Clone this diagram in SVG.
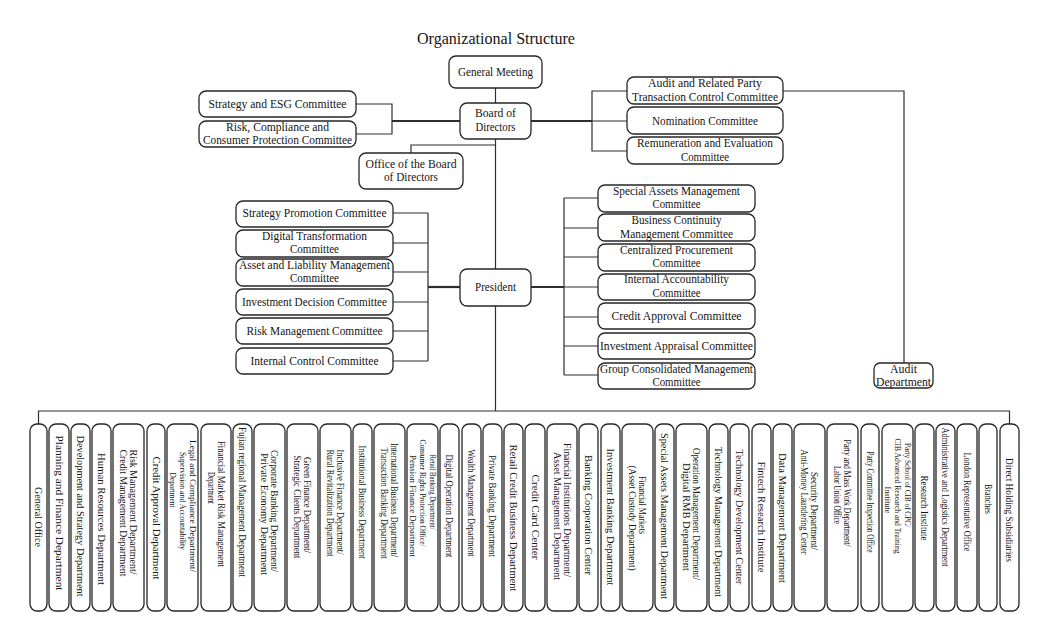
<svg xmlns="http://www.w3.org/2000/svg" width="1045" height="632" viewBox="0 0 1045 632">
<style>
.bg{fill:#fff}
.box{fill:#fff;stroke:#262626;stroke-width:1.3}
.t{font-family:"Liberation Serif","Times New Roman",serif;font-size:12px;fill:#151515;text-anchor:middle}
.v{font-size:10px}
.v3{font-size:9px}
.ttl{font-size:17px}
.ln{fill:none;stroke:#2e2e2e;stroke-width:1.2}
.th{stroke-width:2.2}
</style>
<rect class="bg" x="0" y="0" width="1045" height="632"/>
<text class="t ttl" x="496" y="44" textLength="158" lengthAdjust="spacingAndGlyphs">Organizational Structure</text>

<g id="connectors">
<path class="ln" d="M495.5,88 V103"/>
<path class="ln" d="M495.5,139 V269"/>
<path class="ln" d="M495.5,145 H411 V153"/>
<path class="ln th" d="M460,121 H392"/>
<path class="ln" d="M356,104 H392 V134 H356"/>
<path class="ln th" d="M531,121 H592"/>
<path class="ln" d="M627,91 H592 V151 H627 M592,121 H627"/>
<path class="ln" d="M783,91 H904 V363"/>
<path class="ln th" d="M460,287 H428"/>
<path class="ln" d="M428,213 V361 M393,213 H428 M393,243 H428 M393,272 H428 M393,302 H428 M393,331 H428 M393,361 H428"/>
<path class="ln th" d="M531,287 H564"/>
<path class="ln" d="M564,198 V375 M564,198 H598 M564,228 H598 M564,257 H598 M564,287 H598 M564,317 H598 M564,346 H598 M564,375 H598"/>
<path class="ln" d="M495.5,306 V411"/>
<path class="ln" d="M38.5,424 V411 H1009.5 V424"/>
</g>

<g id="general-meeting"><rect class="box" x="449" y="56" width="93" height="32" rx="7"/><text class="t" x="495.5" y="76" textLength="75" lengthAdjust="spacingAndGlyphs">General Meeting</text></g>
<g id="board"><rect class="box" x="460" y="103" width="71" height="36" rx="7"/><text class="t" x="495.5" y="117" textLength="41" lengthAdjust="spacingAndGlyphs">Board of</text><text class="t" x="495.5" y="131" textLength="40" lengthAdjust="spacingAndGlyphs">Directors</text></g>
<g id="strategy-esg"><rect class="box" x="199" y="91" width="157" height="26" rx="7"/><text class="t" x="277.5" y="108" textLength="138" lengthAdjust="spacingAndGlyphs">Strategy and ESG Committee</text></g>
<g id="risk-compliance"><rect class="box" x="199" y="121" width="157" height="26" rx="7"/><text class="t" x="277.5" y="131" textLength="103" lengthAdjust="spacingAndGlyphs">Risk, Compliance and</text><text class="t" x="277.5" y="144" textLength="149" lengthAdjust="spacingAndGlyphs">Consumer Protection Committee</text></g>
<g id="office-board"><rect class="box" x="359" y="153" width="104" height="36" rx="7"/><text class="t" x="411" y="168" textLength="91" lengthAdjust="spacingAndGlyphs">Office of the Board</text><text class="t" x="411" y="181" textLength="54" lengthAdjust="spacingAndGlyphs">of Directors</text></g>
<g id="audit-rpt"><rect class="box" x="627" y="77" width="156" height="27" rx="7"/><text class="t" x="705" y="87" textLength="114" lengthAdjust="spacingAndGlyphs">Audit and Related Party</text><text class="t" x="705" y="101" textLength="146" lengthAdjust="spacingAndGlyphs">Transaction Control Committee</text></g>
<g id="nomination"><rect class="box" x="627" y="107" width="156" height="27" rx="7"/><text class="t" x="705" y="125" textLength="106" lengthAdjust="spacingAndGlyphs">Nomination Committee</text></g>
<g id="remuneration"><rect class="box" x="627" y="137" width="156" height="27" rx="7"/><text class="t" x="705" y="147" textLength="136" lengthAdjust="spacingAndGlyphs">Remuneration and Evaluation</text><text class="t" x="705" y="161" textLength="48" lengthAdjust="spacingAndGlyphs">Committee</text></g>
<g id="president"><rect class="box" x="460" y="269" width="71" height="37" rx="7"/><text class="t" x="495.5" y="291" textLength="41" lengthAdjust="spacingAndGlyphs">President</text></g>

<g id="strategy-promotion"><rect class="box" x="236" y="201" width="157" height="26" rx="7"/><text class="t" x="314.5" y="217" textLength="144" lengthAdjust="spacingAndGlyphs">Strategy Promotion Committee</text></g>
<g id="digital-transformation"><rect class="box" x="236" y="230" width="157" height="27" rx="7"/><text class="t" x="314.5" y="240" textLength="105" lengthAdjust="spacingAndGlyphs">Digital Transformation</text><text class="t" x="314.5" y="253" textLength="49" lengthAdjust="spacingAndGlyphs">Committee</text></g>
<g id="asset-liability"><rect class="box" x="236" y="259" width="157" height="27" rx="7"/><text class="t" x="314.5" y="269" textLength="151" lengthAdjust="spacingAndGlyphs">Asset and Liability Management</text><text class="t" x="314.5" y="282" textLength="49" lengthAdjust="spacingAndGlyphs">Committee</text></g>
<g id="investment-decision"><rect class="box" x="236" y="289" width="157" height="26" rx="7"/><text class="t" x="314.5" y="306" textLength="145" lengthAdjust="spacingAndGlyphs">Investment Decision Committee</text></g>
<g id="risk-management"><rect class="box" x="236" y="318" width="157" height="26" rx="7"/><text class="t" x="314.5" y="335" textLength="136" lengthAdjust="spacingAndGlyphs">Risk Management Committee</text></g>
<g id="internal-control"><rect class="box" x="236" y="348" width="157" height="26" rx="7"/><text class="t" x="314.5" y="365" textLength="128" lengthAdjust="spacingAndGlyphs">Internal Control Committee</text></g>

<g id="special-assets"><rect class="box" x="598" y="185" width="157" height="27" rx="7"/><text class="t" x="676.5" y="195" textLength="127" lengthAdjust="spacingAndGlyphs">Special Assets Management</text><text class="t" x="676.5" y="208" textLength="48" lengthAdjust="spacingAndGlyphs">Committee</text></g>
<g id="business-continuity"><rect class="box" x="598" y="214" width="157" height="27" rx="7"/><text class="t" x="676.5" y="224" textLength="90" lengthAdjust="spacingAndGlyphs">Business Continuity</text><text class="t" x="676.5" y="238" textLength="113" lengthAdjust="spacingAndGlyphs">Management Committee</text></g>
<g id="centralized-procurement"><rect class="box" x="598" y="244" width="157" height="27" rx="7"/><text class="t" x="676.5" y="254" textLength="113" lengthAdjust="spacingAndGlyphs">Centralized Procurement</text><text class="t" x="676.5" y="267" textLength="48" lengthAdjust="spacingAndGlyphs">Committee</text></g>
<g id="internal-accountability"><rect class="box" x="598" y="274" width="157" height="26" rx="7"/><text class="t" x="676.5" y="283" textLength="105" lengthAdjust="spacingAndGlyphs">Internal Accountability</text><text class="t" x="676.5" y="297" textLength="48" lengthAdjust="spacingAndGlyphs">Committee</text></g>
<g id="credit-approval-committee"><rect class="box" x="598" y="303" width="157" height="26" rx="7"/><text class="t" x="676.5" y="320" textLength="130" lengthAdjust="spacingAndGlyphs">Credit Approval Committee</text></g>
<g id="investment-appraisal"><rect class="box" x="598" y="333" width="157" height="26" rx="7"/><text class="t" x="676.5" y="350" textLength="153" lengthAdjust="spacingAndGlyphs">Investment Appraisal Committee</text></g>
<g id="group-consolidated"><rect class="box" x="598" y="363" width="157" height="26" rx="7"/><text class="t" x="676.5" y="373" textLength="153" lengthAdjust="spacingAndGlyphs">Group Consolidated Management</text><text class="t" x="676.5" y="386" textLength="48" lengthAdjust="spacingAndGlyphs">Committee</text></g>
<g id="audit-department"><rect class="box" x="874" y="363" width="59" height="25" rx="6"/><text class="t" x="903.5" y="373" textLength="27" lengthAdjust="spacingAndGlyphs">Audit</text><text class="t" x="903.5" y="386" textLength="55" lengthAdjust="spacingAndGlyphs">Department</text></g>

<g id="d01"><rect class="box" x="30" y="424" width="17" height="187" rx="7"/><text class="t v" transform="translate(38.5,517) rotate(90)" y="3.5" textLength="60" lengthAdjust="spacingAndGlyphs">General Office</text></g>
<g id="d02"><rect class="box" x="49" y="424" width="20" height="187" rx="7"/><text class="t v" transform="translate(59,513) rotate(90)" y="3.5" textLength="155" lengthAdjust="spacingAndGlyphs">Planning and Finance Department</text></g>
<g id="d03"><rect class="box" x="71" y="424" width="19" height="187" rx="7"/><text class="t v" transform="translate(80.5,516) rotate(90)" y="3.5" textLength="161" lengthAdjust="spacingAndGlyphs">Development and Strategy Department</text></g>
<g id="d04"><rect class="box" x="92" y="424" width="19" height="187" rx="7"/><text class="t v" transform="translate(101.5,519) rotate(90)" y="3.5" textLength="132" lengthAdjust="spacingAndGlyphs">Human Resources Department</text></g>
<g id="d05"><rect class="box" x="113" y="424" width="31" height="187" rx="7"/><text class="t v" transform="translate(133.5,512) rotate(90)" y="3.5" textLength="125" lengthAdjust="spacingAndGlyphs">Risk Management Department/</text><text class="t v" transform="translate(123.5,513) rotate(90)" y="3.5" textLength="127" lengthAdjust="spacingAndGlyphs">Credit Management Department</text></g>
<g id="d06"><rect class="box" x="147" y="424" width="18" height="187" rx="7"/><text class="t v" transform="translate(156,518) rotate(90)" y="3.5" textLength="123" lengthAdjust="spacingAndGlyphs">Credit Approval Department</text></g>
<g id="d07"><rect class="box" x="167" y="424" width="31" height="187" rx="7"/><text class="t v3" transform="translate(192.5,506) rotate(90)" y="3" textLength="132" lengthAdjust="spacingAndGlyphs">Legal and Compliance Department/</text><text class="t v3" transform="translate(182.5,501) rotate(90)" y="3" textLength="98" lengthAdjust="spacingAndGlyphs">Supervision and Accountability</text><text class="t v3" transform="translate(173,490) rotate(90)" y="3" textLength="35" lengthAdjust="spacingAndGlyphs">Department</text></g>
<g id="d08"><rect class="box" x="201" y="424" width="30" height="187" rx="7"/><text class="t v" transform="translate(221,504) rotate(90)" y="3.5" textLength="126" lengthAdjust="spacingAndGlyphs">Financial Market Risk Management</text><text class="t v" transform="translate(211,488) rotate(90)" y="3.5" textLength="32" lengthAdjust="spacingAndGlyphs">Department</text></g>
<g id="d09"><rect class="box" x="233" y="424" width="19" height="187" rx="7"/><text class="t v" transform="translate(242.5,502) rotate(90)" y="3.5" textLength="150" lengthAdjust="spacingAndGlyphs">Fujian regional Management Department</text></g>
<g id="d10"><rect class="box" x="254" y="424" width="31" height="187" rx="7"/><text class="t v" transform="translate(274.5,511) rotate(90)" y="3.5" textLength="122" lengthAdjust="spacingAndGlyphs">Corporate Banking Department/</text><text class="t v" transform="translate(264.5,514) rotate(90)" y="3.5" textLength="122" lengthAdjust="spacingAndGlyphs">Private Economy Department</text></g>
<g id="d11"><rect class="box" x="287" y="424" width="31" height="187" rx="7"/><text class="t v" transform="translate(307.5,505) rotate(90)" y="3.5" textLength="96" lengthAdjust="spacingAndGlyphs">Green Finance Department/</text><text class="t v" transform="translate(297.5,507) rotate(90)" y="3.5" textLength="103" lengthAdjust="spacingAndGlyphs">Strategic Clients Department</text></g>
<g id="d12"><rect class="box" x="320" y="424" width="31" height="187" rx="7"/><text class="t v" transform="translate(340.5,502) rotate(90)" y="3.5" textLength="105" lengthAdjust="spacingAndGlyphs">Inclusive Finance Department/</text><text class="t v" transform="translate(330.5,503) rotate(90)" y="3.5" textLength="107" lengthAdjust="spacingAndGlyphs">Rural Revitalization Department</text></g>
<g id="d13"><rect class="box" x="353" y="424" width="19" height="187" rx="7"/><text class="t v" transform="translate(362.5,502) rotate(90)" y="3.5" textLength="113" lengthAdjust="spacingAndGlyphs">Institutional Business Department</text></g>
<g id="d14"><rect class="box" x="374" y="424" width="31" height="187" rx="7"/><text class="t v" transform="translate(394.5,500) rotate(90)" y="3.5" textLength="114" lengthAdjust="spacingAndGlyphs">International Business Department/</text><text class="t v" transform="translate(384.5,503) rotate(90)" y="3.5" textLength="111" lengthAdjust="spacingAndGlyphs">Transaction Banking Department</text></g>
<g id="d15"><rect class="box" x="407" y="424" width="31" height="187" rx="7"/><text class="t v3" transform="translate(432.5,492) rotate(90)" y="3" textLength="75" lengthAdjust="spacingAndGlyphs">Retail Banking Department/</text><text class="t v3" transform="translate(422.5,493) rotate(90)" y="3" textLength="107" lengthAdjust="spacingAndGlyphs">Consumer Rights Protection Office/</text><text class="t v3" transform="translate(413,506) rotate(90)" y="3" textLength="102" lengthAdjust="spacingAndGlyphs">Pension Finance Department</text></g>
<g id="d16"><rect class="box" x="440" y="424" width="19" height="187" rx="7"/><text class="t v" transform="translate(449.5,506) rotate(90)" y="3.5" textLength="103" lengthAdjust="spacingAndGlyphs">Digital Operation Department</text></g>
<g id="d17"><rect class="box" x="462" y="424" width="19" height="187" rx="7"/><text class="t v" transform="translate(471.5,503) rotate(90)" y="3.5" textLength="107" lengthAdjust="spacingAndGlyphs">Wealth Management Department</text></g>
<g id="d18"><rect class="box" x="483" y="424" width="19" height="187" rx="7"/><text class="t v" transform="translate(492.5,506) rotate(90)" y="3.5" textLength="102" lengthAdjust="spacingAndGlyphs">Private Banking Department</text></g>
<g id="d19"><rect class="box" x="504" y="424" width="19" height="187" rx="7"/><text class="t v" transform="translate(513.5,518) rotate(90)" y="3.5" textLength="147" lengthAdjust="spacingAndGlyphs">Retail Credit Business Department</text></g>
<g id="d20"><rect class="box" x="525" y="424" width="20" height="187" rx="7"/><text class="t v" transform="translate(535,517) rotate(90)" y="3.5" textLength="85" lengthAdjust="spacingAndGlyphs">Credit Card Center</text></g>
<g id="d21"><rect class="box" x="547" y="424" width="30" height="187" rx="7"/><text class="t v" transform="translate(567,510) rotate(90)" y="3.5" textLength="134" lengthAdjust="spacingAndGlyphs">Financial Institutions Department/</text><text class="t v" transform="translate(557,516) rotate(90)" y="3.5" textLength="128" lengthAdjust="spacingAndGlyphs">Asset Management Department</text></g>
<g id="d22"><rect class="box" x="579" y="424" width="19" height="187" rx="7"/><text class="t v" transform="translate(588.5,515) rotate(90)" y="3.5" textLength="120" lengthAdjust="spacingAndGlyphs">Banking Cooperation Center</text></g>
<g id="d23"><rect class="box" x="601" y="424" width="19" height="187" rx="7"/><text class="t v" transform="translate(610.5,517) rotate(90)" y="3.5" textLength="137" lengthAdjust="spacingAndGlyphs">Investment Banking Department</text></g>
<g id="d24"><rect class="box" x="622" y="424" width="31" height="187" rx="7"/><text class="t v" transform="translate(642.5,505) rotate(90)" y="3.5" textLength="58" lengthAdjust="spacingAndGlyphs">Financial Markets</text><text class="t v" transform="translate(632.5,518) rotate(90)" y="3.5" textLength="105" lengthAdjust="spacingAndGlyphs">(Asset Custody Department)</text></g>
<g id="d25"><rect class="box" x="655" y="424" width="19" height="187" rx="7"/><text class="t v" transform="translate(664.5,516) rotate(90)" y="3.5" textLength="166" lengthAdjust="spacingAndGlyphs">Special Assets Management Department</text></g>
<g id="d26"><rect class="box" x="676" y="424" width="31" height="187" rx="7"/><text class="t v" transform="translate(696.5,514) rotate(90)" y="3.5" textLength="132" lengthAdjust="spacingAndGlyphs">Operation Management Department/</text><text class="t v" transform="translate(686.5,517) rotate(90)" y="3.5" textLength="108" lengthAdjust="spacingAndGlyphs">Digital RMB Department</text></g>
<g id="d27"><rect class="box" x="709" y="424" width="19" height="187" rx="7"/><text class="t v" transform="translate(718.5,522) rotate(90)" y="3.5" textLength="150" lengthAdjust="spacingAndGlyphs">Technology Management Department</text></g>
<g id="d28"><rect class="box" x="730" y="424" width="19" height="187" rx="7"/><text class="t v" transform="translate(739.5,517) rotate(90)" y="3.5" textLength="135" lengthAdjust="spacingAndGlyphs">Technology Development Center</text></g>
<g id="d29"><rect class="box" x="752" y="424" width="19" height="187" rx="7"/><text class="t v" transform="translate(761.5,517) rotate(90)" y="3.5" textLength="111" lengthAdjust="spacingAndGlyphs">Fintech Research Institute</text></g>
<g id="d30"><rect class="box" x="773" y="424" width="19" height="187" rx="7"/><text class="t v" transform="translate(782.5,518) rotate(90)" y="3.5" textLength="130" lengthAdjust="spacingAndGlyphs">Data Management Department</text></g>
<g id="d31"><rect class="box" x="794" y="424" width="31" height="187" rx="7"/><text class="t v" transform="translate(814.5,511) rotate(90)" y="3.5" textLength="78" lengthAdjust="spacingAndGlyphs">Security Department/</text><text class="t v" transform="translate(804.5,502) rotate(90)" y="3.5" textLength="105" lengthAdjust="spacingAndGlyphs">Anti-Money Laundering Center</text></g>
<g id="d32"><rect class="box" x="827" y="424" width="31" height="187" rx="7"/><text class="t v" transform="translate(847.5,493) rotate(90)" y="3.5" textLength="107" lengthAdjust="spacingAndGlyphs">Party and Mass Work Department/</text><text class="t v" transform="translate(837.5,495) rotate(90)" y="3.5" textLength="58" lengthAdjust="spacingAndGlyphs">Labor Union Office</text></g>
<g id="d33"><rect class="box" x="861" y="424" width="18" height="187" rx="7"/><text class="t v" transform="translate(870,502) rotate(90)" y="3.5" textLength="101" lengthAdjust="spacingAndGlyphs">Party Committee Inspection Office</text></g>
<g id="d34"><rect class="box" x="882" y="424" width="31" height="187" rx="7"/><text class="t v3" transform="translate(907.5,485) rotate(90)" y="3" textLength="84" lengthAdjust="spacingAndGlyphs">Party School of CIB of CPC/</text><text class="t v3" transform="translate(897.5,496) rotate(90)" y="3" textLength="115" lengthAdjust="spacingAndGlyphs">CIB Advanced Research and Training</text><text class="t v3" transform="translate(888,500) rotate(90)" y="3" textLength="27" lengthAdjust="spacingAndGlyphs">Institute</text></g>
<g id="d35"><rect class="box" x="915" y="424" width="19" height="187" rx="7"/><text class="t v" transform="translate(924.5,508) rotate(90)" y="3.5" textLength="65" lengthAdjust="spacingAndGlyphs">Research Institute</text></g>
<g id="d36"><rect class="box" x="936" y="424" width="19" height="187" rx="7"/><text class="t v" transform="translate(945.5,497) rotate(90)" y="3.5" textLength="139" lengthAdjust="spacingAndGlyphs">Administrative and Logistics Department</text></g>
<g id="d37"><rect class="box" x="957" y="424" width="20" height="187" rx="7"/><text class="t v" transform="translate(967,502) rotate(90)" y="3.5" textLength="99" lengthAdjust="spacingAndGlyphs">London Representative Office</text></g>
<g id="d38"><rect class="box" x="979" y="424" width="18" height="187" rx="7"/><text class="t v" transform="translate(988,499) rotate(90)" y="3.5" textLength="30" lengthAdjust="spacingAndGlyphs">Branches</text></g>
<g id="d39"><rect class="box" x="1000" y="424" width="19" height="187" rx="7"/><text class="t v" transform="translate(1009.5,510) rotate(90)" y="3.5" textLength="104" lengthAdjust="spacingAndGlyphs">Direct Holding Subsidiaries</text></g>
</svg>
